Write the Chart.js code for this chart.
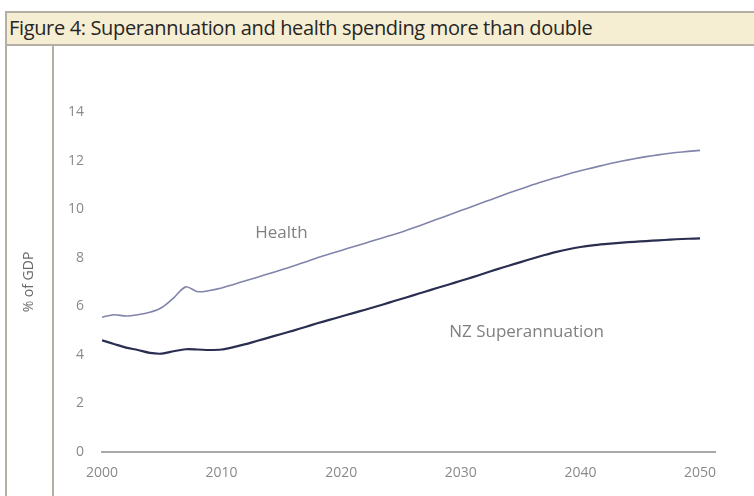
<!DOCTYPE html>
<html>
<head>
<meta charset="utf-8">
<script src="https://cdn.jsdelivr.net/npm/chart.js@4/dist/chart.umd.min.js"></script>
<style>
	html, body { margin: 0; padding: 0; background: #fff; }
	#wrap { position: relative; width: 754px; height: 496px; overflow: hidden; }
	#titlebar {
		position: absolute; left: 5px; top: 11px; width: 760px; height: 31px;
		background: #f6eed2; border-top: 2px solid #b4aea4; border-bottom: 2px solid #b4aea4;
		border-left: 2px solid #b4aea4;
	}
	#titlebar span {
		position: absolute; left: 2px; top: 1px; font-family: "Open Sans", sans-serif;
		font-size: 20px; line-height: 28px; color: #262626; letter-spacing: -0.35px; white-space: nowrap;
	}
	#leftline { position: absolute; left: 5px; top: 44px; width: 2px; height: 460px; background: #b4aea4; }
	#innerline { position: absolute; left: 52px; top: 44px; width: 2px; height: 460px; background: #b4aea4; }
	canvas { position: absolute; left: 0; top: 0; }
</style>
</head>
<body>
<div id="wrap">
	<div id="titlebar"><span>Figure 4: Superannuation and health spending more than double</span></div>
	<div id="leftline"></div>
	<div id="innerline"></div>
	<canvas id="chart" width="754" height="496"></canvas>
</div>
<script>
var years = [];
for (var y = 2000; y <= 2050; y++) years.push(y);

// % of GDP
var health = [
	5.55, 5.65, 5.6, 5.65, 5.75, 5.95, 6.35, 6.8, 6.6, 6.65,
	6.75, 6.9, 7.05, 7.2, 7.35, 7.5, 7.66, 7.82, 8.0, 8.15,
	8.3, 8.45, 8.6, 8.75, 8.9, 9.05, 9.22, 9.4, 9.58, 9.76,
	9.94, 10.12, 10.3, 10.48, 10.66, 10.83, 11.0, 11.16, 11.3, 11.45,
	11.58, 11.7, 11.82, 11.93, 12.03, 12.12, 12.2, 12.27, 12.33, 12.38,
	12.42
];
var superannuation = [
	4.6, 4.45, 4.3, 4.2, 4.08, 4.05, 4.15, 4.23, 4.22, 4.2,
	4.22, 4.32, 4.44, 4.58, 4.72, 4.86, 5.0, 5.15, 5.3, 5.44,
	5.58, 5.72, 5.86, 6.0, 6.15, 6.3, 6.45, 6.6, 6.75, 6.9,
	7.05, 7.2, 7.36, 7.52, 7.67, 7.82, 7.97, 8.11, 8.24, 8.35,
	8.44, 8.51, 8.56, 8.6, 8.64, 8.67, 8.7, 8.73, 8.76, 8.78,
	8.8
];
var xTicks = [2000, 2010, 2020, 2030, 2040, 2050];
var yTicks = [0, 2, 4, 6, 8, 10, 12, 14];

var toPoints = function(values) {
	var pts = [];
	for (var i = 0; i < values.length; i++) {
		pts.push({ x: years[i], y: values[i] });
	}
	return pts;
};

// text labels placed in data coordinates next to each line
var seriesLabels = {
	id: 'seriesLabels',
	afterDatasetsDraw: function(chart) {
		var ctx = chart.ctx;
		var xs = chart.scales.x, ys = chart.scales.y;
		ctx.save();
		ctx.fillStyle = '#808080';
		ctx.font = '17px "Open Sans", sans-serif';
		ctx.textAlign = 'center';
		ctx.textBaseline = 'middle';
		ctx.fillText('Health', xs.getPixelForValue(2015), ys.getPixelForValue(9.0));
		ctx.fillText('NZ Superannuation', xs.getPixelForValue(2035.5), ys.getPixelForValue(4.95));
		ctx.restore();
	}
};

var tickFont = { family: '"Open Sans", sans-serif', size: 14 };

new Chart(document.getElementById('chart'), {
	type: 'line',
	data: {
		datasets: [
			{
				label: 'Health',
				data: toPoints(health),
				borderColor: '#8184ab',
				borderWidth: 1.6,
				pointRadius: 0,
				tension: 0.3,
				fill: false
			},
			{
				label: 'NZ Superannuation',
				data: toPoints(superannuation),
				borderColor: '#2a2e50',
				borderWidth: 2.2,
				pointRadius: 0,
				tension: 0.3,
				fill: false
			}
		]
	},
	options: {
		responsive: false,
		animation: false,
		layout: { padding: { left: 6, top: 112, right: 39, bottom: 0 } },
		plugins: {
			legend: { display: false },
			tooltip: { enabled: false }
		},
		scales: {
			x: {
				type: 'linear',
				min: 2000,
				max: 2051.25,
				afterBuildTicks: function(scale) {
					scale.ticks = xTicks.map(function(v) { return { value: v }; });
				},
				afterFit: function(scale) { scale.height = 44; },
				grid: { display: false },
				border: { display: true, color: '#a8a8a8', width: 2 },
				ticks: {
					color: '#8a8a8a', font: tickFont, padding: 5, maxRotation: 0,
					callback: function(v) { return String(v); }
				}
			},
			y: {
				min: 0,
				max: 14,
				afterBuildTicks: function(scale) {
					scale.ticks = yTicks.map(function(v) { return { value: v }; });
				},
				afterFit: function(scale) { scale.width = 96; },
				grid: { display: false },
				border: { display: false },
				ticks: { color: '#8a8a8a', font: tickFont, padding: 10 },
				title: {
					display: true,
					text: '% of GDP',
					color: '#6a6a6a',
					font: { family: '"Open Sans", sans-serif', size: 14 },
					padding: { top: 15, bottom: 0 }
				}
			}
		}
	},
	plugins: [seriesLabels]
});
</script>
</body>
</html>
